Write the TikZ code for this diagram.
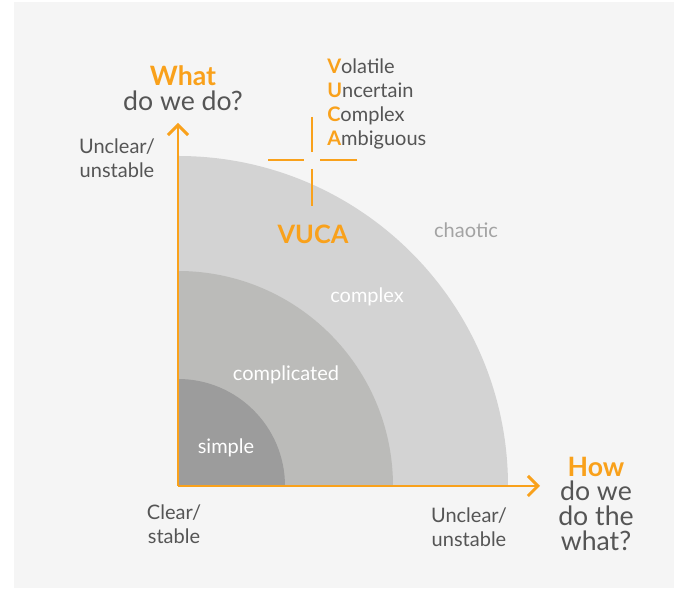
\documentclass[tikz,border=0pt]{standalone}
\usepackage{fontspec}
\setmainfont{Lato}
\usepackage{tikz}
\usetikzlibrary{arrows.meta}
\definecolor{vucaorange}{HTML}{F9A11B}
\definecolor{bggray}{HTML}{F5F5F5}
\definecolor{chaoticgray}{HTML}{D3D3D3}
\definecolor{complicatedgray}{HTML}{BBBBB9}
\definecolor{simplegray}{HTML}{9C9C9C}
\definecolor{textgray}{HTML}{555555}
\definecolor{chaotictext}{HTML}{A3A3A3}
\tikzstyle{axis} = [vucaorange, line width=2.2pt, -{Straight Barb[length=7.5pt,width=15pt]}]
\tikzstyle{cross} = [vucaorange, line width=1.6pt]
\tikzstyle{label} = [text=textgray, font=\fontsize{15}{18}\selectfont, align=center, inner sep=0pt]
\tikzstyle{question} = [text=textgray, font=\fontsize{20}{18.5}\selectfont, align=center, inner sep=0pt]
\tikzstyle{zone} = [text=white, font=\fontsize{15}{18}\selectfont, inner sep=0pt]
\newcommand{\hl}[1]{{\bfseries\color{vucaorange}#1}}

\begin{document}
\begin{tikzpicture}[x=0.75pt, y=0.75pt]
    \useasboundingbox (0,0) rectangle (676,591);
    \fill[bggray] (14,3) rectangle (674,588.5);

    \coordinate (origin) at (178,105);
    \coordinate (ytip) at (178,468);
    \coordinate (xtip) at (540,105);

    % zones, largest first
    \fill[chaoticgray] (origin) -- ++(330,0) arc[start angle=0, end angle=90, radius=330] -- cycle;
    \fill[complicatedgray] (origin) -- ++(215,0) arc[start angle=0, end angle=90, radius=215] -- cycle;
    \fill[simplegray] (origin) -- ++(107,0) arc[start angle=0, end angle=90, radius=107] -- cycle;

    \draw [axis] (origin) -- (ytip);
    \draw [axis] (origin) -- (xtip);

    % crosshair
    \draw [cross] (268,431) -- (304,431);
    \draw [cross] (320,431) -- (357,431);
    \draw [cross] (312,474) -- (312,439);
    \draw [cross] (312,422) -- (312,385);

    \node (what) [question] at (183,503) {\hl{What}\\do we do?};
    \node (ylabel) [label] at (117,433) {Unclear/\\unstable};
    \node (vucalist) [label, anchor=west, align=left] at (327,487)
        {\hl{V}olatile\\\hl{U}ncertain\\\hl{C}omplex\\\hl{A}mbiguous};
    \node (vuca) [font=\fontsize{19}{22}\selectfont\bfseries, text=vucaorange, inner sep=0pt] at (313,357) {VUCA};

    \node (chaotic) [zone, text=chaotictext] at (466,361) {chaotic};
    \node (complex) [zone] at (367,294) {complex};
    \node (complicated) [zone] at (286,216) {complicated};
    \node (simple) [zone] at (226,143) {simple};

    \node (clear) [label] at (174,67) {Clear/\\stable};
    \node (xlabel) [label] at (469,64) {Unclear/\\unstable};
    \node (how) [question] at (596,87.5) {\hl{How}\\do we\\do the\\what?};
\end{tikzpicture}
\end{document}
